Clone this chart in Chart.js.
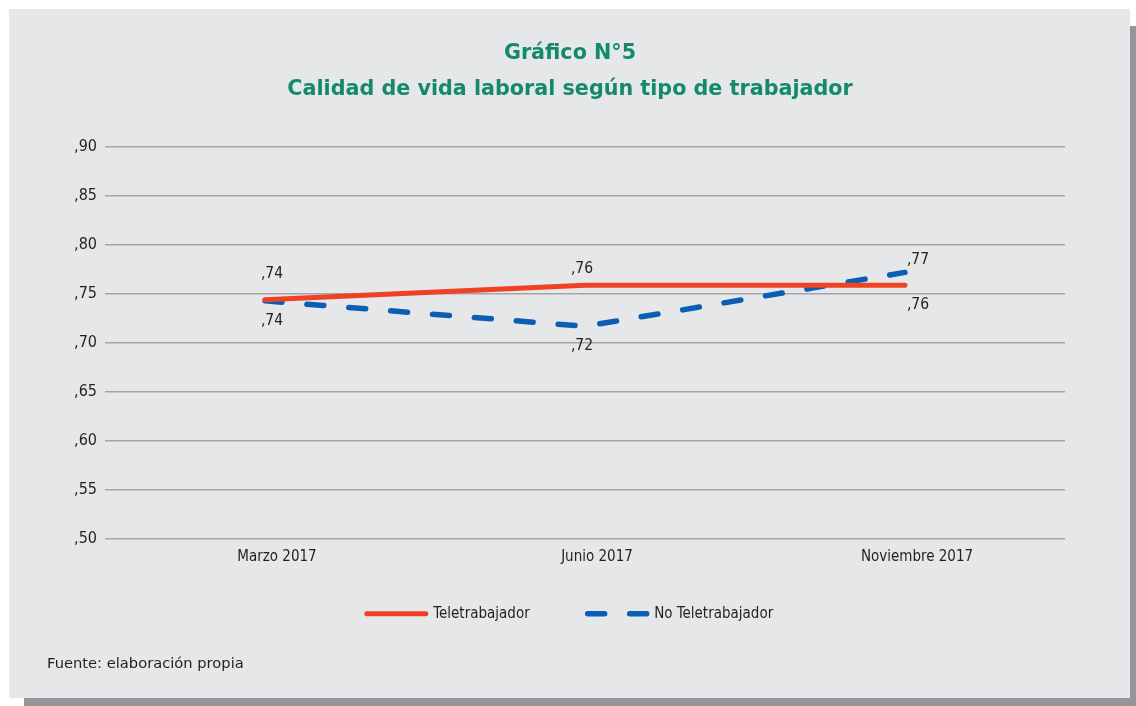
<!DOCTYPE html>
<html>
<head>
<meta charset="utf-8">
<script src="https://cdn.jsdelivr.net/npm/chart.js@4/dist/chart.umd.min.js"></script>
<style>
  html, body { margin: 0; padding: 0; background: #ffffff; overflow: hidden; }
  body { width: 1136px; height: 706px; position: relative; }
  #panel { position: absolute; left: 9px; top: 9px; width: 1121px; height: 689px;
           background: #e6e7e8; box-shadow: 15px 17px 0 #939598; }
  #wrap { position: absolute; left: 0; top: 0; width: 1136px; height: 706px; }
  #source { position: absolute; left: 47px; top: 654px; font-family: 'DejaVu Sans', Verdana, sans-serif;
            font-size: 14.7px; color: #231f20; line-height: 18px; }
</style>
</head>
<body>
<div id="panel"></div>
<div id="wrap"><canvas id="chart" width="1136" height="706"></canvas></div>
<div id="source">Fuente: elaboración propia</div>
<script>
const categories = ['Marzo 2017', 'Junio 2017', 'Noviembre 2017'];
const seriesNames = ['Teletrabajador', 'No Teletrabajador'];
const teletrabajador = [0.744, 0.759, 0.759];
const noTeletrabajador = [0.743, 0.717, 0.772];
const yTicks = [0.50, 0.55, 0.60, 0.65, 0.70, 0.75, 0.80, 0.85, 0.90];
const titleLines = ['Gráfico N°5', 'Calidad de vida laboral según tipo de trabajador'];

const condensed = "'Liberation Sans Narrow', 'DejaVu Sans Condensed', sans-serif";
const fmt = v => v.toFixed(2).replace(/^0\./, ',');

// label placement (style): offsets relative to each point
const labelOffsets = [
  [[7, -26], [-3, -16], [13, 20]],
  [[7, 20], [-3, 20], [13, -12]]
];

const dataLabels = {
  id: 'dataLabels',
  afterDatasetsDraw(chart) {
    const ctx = chart.ctx;
    ctx.save();
    ctx.font = "15.5px " + condensed;
    ctx.fillStyle = '#231f20';
    ctx.textAlign = 'center';
    ctx.textBaseline = 'middle';
    chart.data.datasets.forEach((ds, di) => {
      const meta = chart.getDatasetMeta(di);
      meta.data.forEach((pt, i) => {
        const o = labelOffsets[di][i];
        ctx.fillText(fmt(ds.data[i]), pt.x + o[0], pt.y + o[1]);
      });
    });
    ctx.restore();
  }
};

// empty right axis keeps the plot where the reference has it while titles stay centred
const spacerAxis = {
  position: 'right', display: true, grid: { display: false, drawTicks: false }, border: { display: false },
  ticks: { display: false }, afterFit(scale) { scale.width = 28; }
};

new Chart(document.getElementById('chart'), {
  type: 'line',
  data: {
    labels: categories,
    datasets: [
      { label: seriesNames[0], data: teletrabajador, borderColor: '#ef4123', backgroundColor: '#ef4123',
        borderWidth: 5, borderCapStyle: 'round', borderJoinStyle: 'round', pointRadius: 0, tension: 0,
        pointStyle: 'line' },
      { label: seriesNames[1], data: noTeletrabajador, borderColor: '#0a5eb4', backgroundColor: '#0a5eb4',
        borderWidth: 5.5, borderDash: [17, 25], borderCapStyle: 'round', borderJoinStyle: 'round',
        pointRadius: 0, tension: 0, pointStyle: 'line' }
    ]
  },
  options: {
    responsive: false,
    animation: false,
    devicePixelRatio: 1,
    layout: { padding: { left: 47, right: 43, top: 0, bottom: 74.65 } },
    plugins: {
      title: {
        display: true,
        text: titleLines,
        color: '#138a6c',
        font: { family: "'DejaVu Sans', Verdana, sans-serif", size: 20.7, weight: 'bold', lineHeight: '36px' },
        padding: { top: 36, bottom: 39 }
      },
      legend: {
        display: true,
        position: 'bottom',
        title: { display: true, text: '', font: { size: 1, lineHeight: '1px' }, padding: { top: -27.55, bottom: 0 } },
        labels: {
          usePointStyle: true,
          pointStyleWidth: 59,
          padding: 58,
          color: '#231f20',
          font: { family: condensed, size: 15 },
          generateLabels(chart) {
            const items = Chart.defaults.plugins.legend.labels.generateLabels(chart);
            items.forEach(it => {
              const ds = chart.data.datasets[it.datasetIndex];
              it.lineDash = ds.borderDash || [];
              it.lineCap = ds.borderCapStyle;
              it.lineWidth = ds.borderWidth;
              it.strokeStyle = ds.borderColor;
              it.pointStyle = 'line';
            });
            return items;
          }
        }
      },
      tooltip: { enabled: false }
    },
    scales: {
      x: {
        offset: true,
        grid: { display: false, drawTicks: false },
        border: { display: false },
        ticks: { color: '#231f20', padding: 9, labelOffset: 12, font: { family: condensed, size: 15 } }
      },
      y: {
        min: 0.5,
        max: 0.9,
        afterBuildTicks(scale) { scale.ticks = yTicks.map(v => ({ value: v })); },
        grid: { color: '#a3a5a8', lineWidth: 1.5, drawTicks: false },
        border: { display: false },
        ticks: { color: '#231f20', padding: 8, font: { family: condensed, size: 16 }, callback: v => fmt(v) },
        afterFit(scale) { scale.width = 58; }
      },
      y2: spacerAxis
    }
  },
  plugins: [dataLabels]
});
</script>
</body>
</html>
